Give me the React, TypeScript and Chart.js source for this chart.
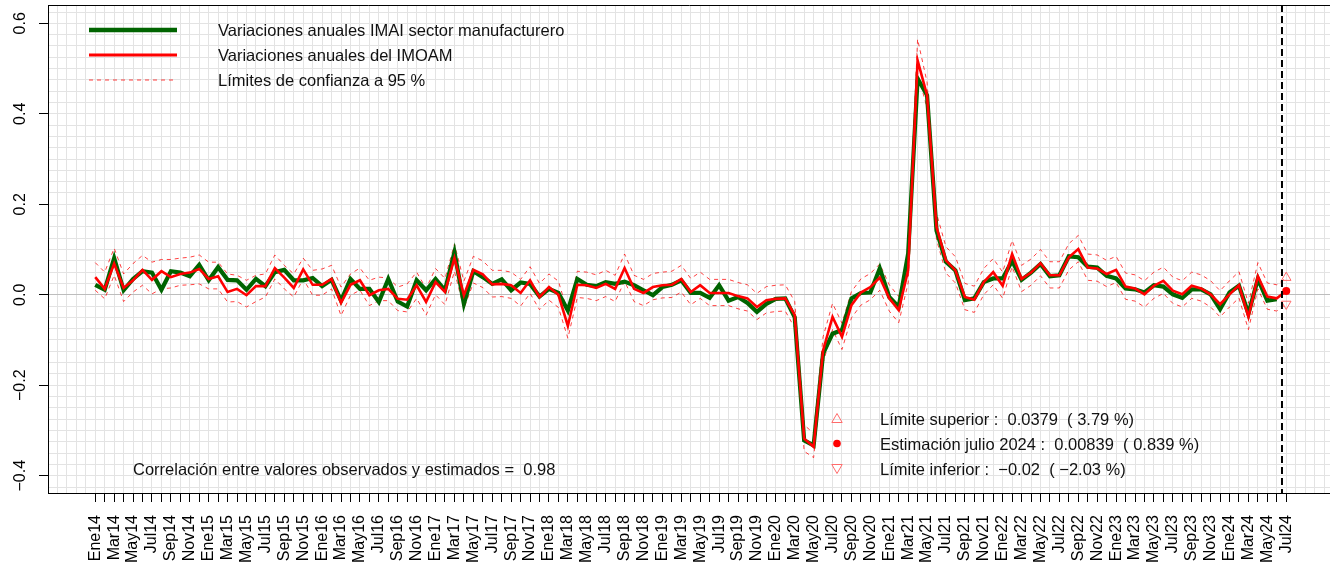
import React, { useEffect, useRef } from "react";
import { Chart, registerables } from "chart.js";

Chart.register(...registerables);

const FONT = '"Liberation Sans", Arial, Helvetica, sans-serif';

// Tick labels: every second month, Ene14 ... Jul24
const YEARS = ["14", "15", "16", "17", "18", "19", "20", "21", "22", "23", "24"];
const LABEL_MONTHS = ["Ene", "Mar", "May", "Jul", "Sep", "Nov"];
const N_LABELS = 64;
const X_TICK_LABELS: string[] = YEARS.flatMap((y) => LABEL_MONTHS.map((m) => m + y)).slice(0, N_LABELS);

const Y_TICK_VALUES = [-0.4, -0.2, 0, 0.2, 0.4, 0.6];
const Y_TICK_LABELS = ["\u22120.4", "\u22120.2", "0.0", "0.2", "0.4", "0.6"];

// Monthly annual variations, Ene14 (index 0) .. Jun24 (index 125)
const IMAI = [
  0.022, 0.011, 0.081, 0.010, 0.035, 0.052, 0.049, 0.011, 0.052, 0.049, 0.041, 0.066,
  0.032, 0.061, 0.033, 0.032, 0.011, 0.035, 0.019, 0.050, 0.055, 0.032, 0.032, 0.037,
  0.019, 0.033, -0.013, 0.035, 0.013, 0.013, -0.016, 0.035, -0.015, -0.026, 0.032, 0.010,
  0.035, 0.010, 0.094, -0.020, 0.052, 0.039, 0.024, 0.034, 0.010, 0.027, 0.024, -0.004,
  0.013, 0.004, -0.035, 0.035, 0.022, 0.019, 0.028, 0.024, 0.029, 0.021, 0.010, -0.001,
  0.017, 0.022, 0.032, 0.004, 0.004, -0.007, 0.021, -0.013, -0.005, -0.018, -0.038, -0.020,
  -0.009, -0.008, -0.050, -0.322, -0.333, -0.130, -0.086, -0.078, -0.008, 0.004, 0.005, 0.058,
  -0.005, -0.027, 0.091, 0.478, 0.441, 0.142, 0.073, 0.054, -0.012, -0.008, 0.028, 0.036,
  0.036, 0.075, 0.033, 0.049, 0.068, 0.041, 0.043, 0.085, 0.083, 0.062, 0.060, 0.042,
  0.036, 0.014, 0.012, 0.005, 0.021, 0.018, 0.001, -0.007, 0.012, 0.012, 0.001, -0.032,
  0.005, 0.020, -0.042, 0.035, -0.013, -0.010,
];

// Estimated series, Ene14 .. Jul24 (last = estimate for julio 2024)
const IMOAM = [
  0.039, 0.013, 0.069, 0.015, 0.032, 0.055, 0.033, 0.052, 0.039, 0.046, 0.049, 0.057,
  0.035, 0.041, 0.006, 0.013, -0.001, 0.019, 0.019, 0.059, 0.038, 0.015, 0.056, 0.022,
  0.022, 0.035, -0.018, 0.022, 0.032, -0.001, 0.010, 0.013, -0.009, -0.011, 0.021, -0.016,
  0.028, 0.006, 0.081, -0.001, 0.055, 0.045, 0.023, 0.024, 0.021, 0.004, 0.032, -0.005,
  0.017, 0.000, -0.069, 0.022, 0.021, 0.015, 0.024, 0.013, 0.059, 0.013, 0.004, 0.017,
  0.021, 0.022, 0.035, 0.006, 0.021, 0.004, 0.004, 0.004, -0.003, -0.008, -0.027, -0.012,
  -0.009, -0.008, -0.045, -0.318, -0.336, -0.123, -0.049, -0.093, -0.023, 0.005, 0.017, 0.038,
  -0.008, -0.034, 0.054, 0.518, 0.441, 0.150, 0.076, 0.054, -0.005, -0.011, 0.028, 0.050,
  0.020, 0.090, 0.035, 0.049, 0.070, 0.043, 0.043, 0.083, 0.101, 0.060, 0.058, 0.046,
  0.055, 0.018, 0.014, 0.001, 0.020, 0.031, 0.009, 0.001, 0.020, 0.014, 0.001, -0.021,
  0.001, 0.021, -0.049, 0.041, -0.004, -0.008, 0.00839,
];

const UPPER = [
  0.071, 0.050, 0.103, 0.046, 0.069, 0.087, 0.072, 0.078, 0.078, 0.081, 0.083, 0.088,
  0.072, 0.072, 0.046, 0.043, 0.032, 0.043, 0.046, 0.088, 0.065, 0.046, 0.081, 0.054,
  0.057, 0.065, 0.017, 0.046, 0.059, 0.032, 0.039, 0.037, 0.017, 0.024, 0.050, 0.014,
  0.058, 0.036, 0.112, 0.030, 0.085, 0.075, 0.054, 0.054, 0.050, 0.034, 0.062, 0.025,
  0.046, 0.030, -0.040, 0.052, 0.050, 0.044, 0.054, 0.043, 0.090, 0.043, 0.034, 0.047,
  0.050, 0.052, 0.065, 0.036, 0.050, 0.034, 0.034, 0.034, 0.027, 0.022, 0.003, 0.018,
  0.021, 0.022, -0.015, -0.288, -0.306, -0.093, -0.019, -0.063, 0.007, 0.035, 0.047, 0.068,
  0.022, -0.004, 0.084, 0.565, 0.470, 0.180, 0.106, 0.084, 0.025, 0.019, 0.058, 0.080,
  0.050, 0.120, 0.065, 0.079, 0.100, 0.073, 0.073, 0.113, 0.131, 0.090, 0.088, 0.076,
  0.085, 0.048, 0.044, 0.031, 0.050, 0.061, 0.039, 0.031, 0.050, 0.044, 0.031, 0.009,
  0.031, 0.051, -0.019, 0.071, 0.026, 0.022, 0.0379,
];

const LOWER = [
  0.010, -0.009, 0.043, -0.015, 0.006, 0.021, 0.002, 0.013, 0.015, 0.021, 0.022, 0.024,
  0.013, 0.013, -0.016, -0.015, -0.027, -0.015, -0.005, 0.035, 0.013, -0.005, 0.035, -0.001,
  -0.001, 0.013, -0.046, -0.001, 0.010, -0.024, -0.013, -0.013, -0.035, -0.038, -0.008, -0.045,
  0.000, -0.022, 0.052, -0.030, 0.026, 0.016, -0.005, -0.004, -0.008, -0.025, 0.003, -0.033,
  -0.012, -0.028, -0.096, -0.006, -0.008, -0.013, -0.004, -0.015, 0.030, -0.015, -0.024, -0.011,
  -0.007, -0.006, 0.006, -0.022, -0.008, -0.024, -0.024, -0.024, -0.031, -0.036, -0.055, -0.040,
  -0.037, -0.036, -0.073, -0.346, -0.360, -0.151, -0.077, -0.121, -0.051, -0.023, -0.011, 0.010,
  -0.036, -0.062, 0.026, 0.490, 0.413, 0.122, 0.048, 0.026, -0.033, -0.039, 0.000, 0.022,
  -0.008, 0.062, 0.007, 0.021, 0.042, 0.015, 0.015, 0.055, 0.073, 0.032, 0.030, 0.018,
  0.027, -0.010, -0.014, -0.027, -0.008, 0.003, -0.019, -0.027, -0.008, -0.014, -0.027, -0.049,
  -0.027, -0.007, -0.077, 0.013, -0.032, -0.036, -0.0203,
];

const ESTIMATE_INDEX = 126;
const ESTIMATE = 0.00839;
const EST_UPPER = 0.0379;
const EST_LOWER = -0.0203;
const FORECAST_CUT = 125.55;
const CORRELATION = "0.98";

const LEGEND_ITEMS = [
  "Variaciones anuales IMAI sector manufacturero",
  "Variaciones anuales del IMOAM",
  "L\u00edmites de confianza a 95 %",
];
const INFO_TEXTS = [
  `L\u00edmite superior :  ${EST_UPPER}  ( 3.79 %)`,
  `Estimaci\u00f3n julio 2024 :  ${ESTIMATE}  ( 0.839 %)`,
  `L\u00edmite inferior :  \u22120.02  ( \u22122.03 %)`,
];

const X_MIN = -5;
const X_MAX = 130.63;
const Y_MIN = -0.4382;
const Y_MAX = 0.6405;

const GREEN = "#006400";
const RED = "#ff0000";
const BAND = "rgba(255,0,0,0.75)";
const TRI = "#ff6b6b";
const TEXT_FONT = `16.5px ${FONT}`;

const xy = (arr: number[]) => arr.map((v, i) => ({ x: i, y: v }));

function zeroPad(s: any) {
  s.paddingLeft = 0;
  s.paddingRight = 0;
  s.paddingTop = 0;
  s.paddingBottom = 0;
}

function triangle(ctx: CanvasRenderingContext2D, x: number, y: number, r: number, down: boolean) {
  const d = down ? -1 : 1;
  ctx.beginPath();
  ctx.moveTo(x, y - d * r);
  ctx.lineTo(x + r * 0.866, y + d * r * 0.5);
  ctx.lineTo(x - r * 0.866, y + d * r * 0.5);
  ctx.closePath();
  ctx.stroke();
}

const overlayPlugin = {
  id: "overlay",
  afterDatasetsDraw(chart: any) {
    const ctx: CanvasRenderingContext2D = chart.ctx;
    const { top, bottom } = chart.chartArea;
    const xs = chart.scales.x;
    const cx = xs.getPixelForValue(FORECAST_CUT);
    ctx.save();
    ctx.strokeStyle = "#000";
    ctx.lineWidth = 2;
    ctx.setLineDash([7, 4]);
    ctx.beginPath();
    ctx.moveTo(cx, top);
    ctx.lineTo(cx, bottom);
    ctx.stroke();
    ctx.restore();
  },
  afterDraw(chart: any) {
    const ctx: CanvasRenderingContext2D = chart.ctx;
    ctx.save();
    // legend
    const ds = chart.data.datasets;
    const rows = [
      { y: 30, color: ds[1].borderColor, w: 4.3, dash: [] as number[] },
      { y: 55, color: ds[0].borderColor, w: 3, dash: [] as number[] },
      { y: 80, color: ds[2].borderColor, w: 1, dash: [4, 4] },
    ];
    rows.forEach((r, i) => {
      ctx.strokeStyle = r.color;
      ctx.lineWidth = r.w;
      ctx.setLineDash(r.dash);
      ctx.beginPath();
      ctx.moveTo(89, r.y);
      ctx.lineTo(177, r.y);
      ctx.stroke();
      ctx.setLineDash([]);
      ctx.fillStyle = "#111";
      ctx.font = TEXT_FONT;
      ctx.textBaseline = "alphabetic";
      ctx.textAlign = "left";
      ctx.fillText(LEGEND_ITEMS[i], 218, r.y + 6);
    });
    // correlation
    ctx.fillText(`Correlaci\u00f3n entre valores observados y estimados =  ${CORRELATION}`, 133, 474.5);
    // estimate block
    const ys = [418.5, 443.5, 468.5];
    ctx.lineWidth = 1;
    ctx.strokeStyle = TRI;
    triangle(ctx, 837, ys[0] + 1, 6, false);
    ctx.fillStyle = RED;
    ctx.beginPath();
    ctx.arc(837, ys[1], 3.8, 0, Math.PI * 2);
    ctx.fill();
    triangle(ctx, 837, ys[2] - 1, 6, true);
    ctx.fillStyle = "#111";
    INFO_TEXTS.forEach((t, i) => ctx.fillText(t, 880, ys[i] + 6));
    ctx.restore();
  },
};

export default function App() {
  const ref = useRef<HTMLCanvasElement>(null);
  useEffect(() => {
    const canvas = ref.current!;
    const font = { family: FONT, size: 16 };
    const isYLabel = (v: number) => Y_TICK_VALUES.some((t) => Math.abs(t - v) < 1e-9);
    const chart = new Chart(canvas, {
      type: "line",
      data: {
        datasets: [
          { label: "IMOAM", data: xy(IMOAM), borderColor: RED, borderWidth: 2.6, pointRadius: 0, tension: 0, order: 1 } as any,
          { label: "IMAI", data: xy(IMAI), borderColor: GREEN, borderWidth: 4.2, pointRadius: 0, tension: 0, order: 2 },
          { label: "Superior", data: xy(UPPER), borderColor: BAND, borderWidth: 1, borderDash: [4, 4], pointRadius: 0, order: 3 },
          { label: "Inferior", data: xy(LOWER), borderColor: BAND, borderWidth: 1, borderDash: [4, 4], pointRadius: 0, order: 3 },
          {
            label: "Estimación", data: [{ x: ESTIMATE_INDEX, y: ESTIMATE }], showLine: false,
            pointRadius: 4, pointBackgroundColor: RED, pointBorderWidth: 0, order: 0,
          },
          {
            label: "Lim sup", data: [{ x: ESTIMATE_INDEX, y: EST_UPPER }], showLine: false, pointStyle: "triangle",
            pointRadius: 5.5, pointBorderColor: TRI, pointBackgroundColor: "rgba(0,0,0,0)", pointBorderWidth: 1, order: 0,
          },
          {
            label: "Lim inf", data: [{ x: ESTIMATE_INDEX, y: EST_LOWER }], showLine: false, pointStyle: "triangle",
            pointRotation: 180, pointRadius: 5.5, pointBorderColor: TRI, pointBackgroundColor: "rgba(0,0,0,0)", pointBorderWidth: 1, order: 0,
          },
        ],
      },
      options: {
        responsive: false,
        animation: false,
        layout: { padding: 0, autoPadding: false },
        plugins: { legend: { display: false }, tooltip: { enabled: false } },
        scales: {
          x: {
            type: "linear",
            position: "bottom",
            min: X_MIN,
            max: X_MAX,
            afterBuildTicks: (s: any) => {
              const t = [];
              for (let v = -5; v <= 130; v++) t.push({ value: v });
              s.ticks = t;
            },
            afterFit: (s: any) => {
              s.height = 70;
              zeroPad(s);
            },
            grid: {
              color: "#e3e3e3",
              lineWidth: 1,
              tickLength: 9,
              tickWidth: 1,
              tickColor: (c: any) => (c.tick && c.tick.value >= 0 && c.tick.value <= ESTIMATE_INDEX ? "#000" : "rgba(0,0,0,0)"),
            },
            border: { display: true, color: "#000", width: 1 },
            ticks: {
              autoSkip: false,
              maxRotation: 90,
              minRotation: 90,
              padding: 13,
              color: "#000",
              font,
              callback: (value: any) => {
                const v = Math.round(Number(value));
                if (v >= 0 && v % 2 === 0 && v / 2 < X_TICK_LABELS.length) return X_TICK_LABELS[v / 2];
                return "";
              },
            },
          },
          xTop: {
            type: "linear",
            position: "top",
            min: X_MIN,
            max: X_MAX,
            grid: { display: false },
            ticks: { display: false },
            border: { display: true, color: "#000", width: 1 },
            afterFit: (s: any) => {
              s.height = 5;
              zeroPad(s);
            },
          },
          y: {
            type: "linear",
            position: "left",
            min: Y_MIN,
            max: Y_MAX,
            afterBuildTicks: (s: any) => {
              const t = [];
              for (let k = -17; k <= 25; k++) t.push({ value: Math.round(k * 25) / 1000 });
              s.ticks = t;
            },
            afterFit: (s: any) => {
              s.width = 48;
              zeroPad(s);
            },
            grid: {
              color: (c: any) => (c.tick && Math.abs(c.tick.value) < 1e-9 ? "#bdbdbd" : "#e3e3e3"),
              lineWidth: 1,
              tickLength: 9,
              tickWidth: 1,
              tickColor: (c: any) => (c.tick && isYLabel(c.tick.value) ? "#000" : "rgba(0,0,0,0)"),
            },
            border: { display: true, color: "#000", width: 1 },
            ticks: {
              autoSkip: false,
              minRotation: 90,
              maxRotation: 90,
              crossAlign: "center",
              padding: 3,
              color: "#000",
              font,
              callback: (value: any) => {
                const v = Number(value);
                const idx = Y_TICK_VALUES.findIndex((t) => Math.abs(t - v) < 1e-9);
                return idx >= 0 ? Y_TICK_LABELS[idx] : "";
              },
            },
          },
        },
      } as any,
      plugins: [overlayPlugin],
    });
    return () => chart.destroy();
  }, []);
  return (
    <div style={{ position: "absolute", left: 0, top: 0, width: 1330, height: 563, background: "#fff" }}>
      <canvas ref={ref} width={1330} height={563} style={{ display: "block" }} />
    </div>
  );
}
